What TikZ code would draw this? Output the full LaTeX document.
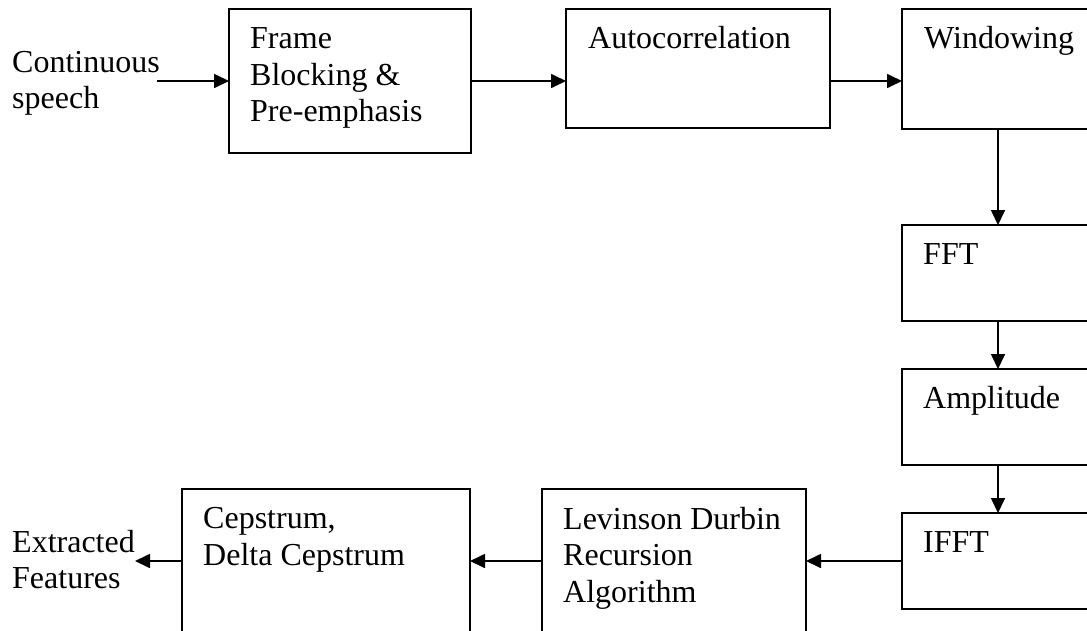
\documentclass[tikz,border=0pt]{standalone}
\usepackage{fontspec}
\setmainfont{Liberation Serif}
\usetikzlibrary{arrows.meta,calc}
% stacked lines, first baseline on the node's base
\newcommand\blocktext[1]{\begin{tabular}[t]{@{}l@{}}#1\end{tabular}}
\begin{document}
\begin{tikzpicture}[x=1pt,y=-1pt,
  blk/.style={draw, line width=2pt, inner sep=0pt, outer sep=0pt, anchor=north west},
  txt/.style={inner sep=0pt, anchor=base west, font=\fontsize{32}{36.7}\selectfont},
  flow/.style={line width=1.7pt, -{Triangle[length=15pt,width=14pt]}},
]
\clip (0,0) rectangle (1087,630);
\fill[white] (0,0) rectangle (1087,630);

% processing blocks
\node[blk, minimum width=242pt, minimum height=144pt] (frame) at (229,9) {};
\node[blk, minimum width=264pt, minimum height=119pt] (auto)  at (566,9) {};
\node[blk, minimum width=200pt, minimum height=120pt] (win)   at (902,9) {};
\node[blk, minimum width=200pt, minimum height=96pt]  (fft)   at (902,225) {};
\node[blk, minimum width=200pt, minimum height=96pt]  (amp)   at (902,369) {};
\node[blk, minimum width=200pt, minimum height=96pt]  (ifft)  at (902,513) {};
\node[blk, minimum width=264pt, minimum height=170pt] (lev)   at (542,489) {};
\node[blk, minimum width=288pt, minimum height=170pt] (cep)   at (182,489) {};

% block captions
\node[txt] (frame-t) at ($(frame.north west)+(21,39.5)$) {\blocktext{Frame\\Blocking \&\\Pre-emphasis}};
\node[txt] (auto-t)  at ($(auto.north west)+(22,39.5)$)  {\blocktext{Autocorrelation}};
\node[txt] (win-t)   at ($(win.north west)+(22,39.5)$)   {\blocktext{Windowing}};
\node[txt] (fft-t)   at ($(fft.north west)+(21,39.5)$)   {\blocktext{FFT}};
\node[txt] (amp-t)   at ($(amp.north west)+(21,39.5)$)   {\blocktext{Amplitude}};
\node[txt] (ifft-t)  at ($(ifft.north west)+(21,39.5)$)  {\blocktext{IFFT}};
\node[txt] (lev-t)   at ($(lev.north west)+(21,40)$)     {\blocktext{Levinson Durbin\\Recursion\\Algorithm}};
\node[txt] (cep-t)   at ($(cep.north west)+(21,39.5)$)   {\blocktext{Cepstrum,\\Delta Cepstrum}};

% input and output labels
\node[txt] (in-t)  at (12,72)  {\blocktext{Continuous\\speech}};
\node[txt] (out-t) at (12,552) {\blocktext{Extracted\\Features}};
\coordinate (in)  at (157,81);
\coordinate (out) at (135,561);
\coordinate (vx)  at (998,0);

% signal flow
\draw[flow] (in) -- (in -| frame.west);
\draw[flow] (in -| frame.east) -- (in -| auto.west);
\draw[flow] (in -| auto.east) -- (in -| win.west);
\draw[flow] (win.south -| vx) -- (fft.north -| vx);
\draw[flow] (fft.south -| vx) -- (amp.north -| vx);
\draw[flow] (amp.south -| vx) -- (ifft.north -| vx);
\draw[flow] (ifft.west) -- (ifft.west -| lev.east);
\draw[flow] (ifft.west -| lev.west) -- (ifft.west -| cep.east);
\draw[flow] (ifft.west -| cep.west) -- (out);
\end{tikzpicture}
\end{document}
